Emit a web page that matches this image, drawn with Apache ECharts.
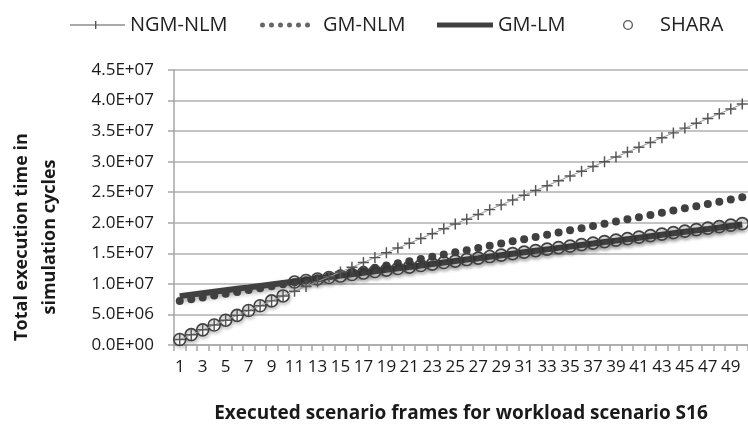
<!DOCTYPE html>
<html>
<head>
<meta charset="utf-8">
<script src="https://cdn.jsdelivr.net/npm/echarts@6/dist/echarts.min.js"></script>
<style>
html,body{margin:0;padding:0;background:#fff;}
#chart{width:748px;height:428px;}
</style>
</head>
<body>
<div id="chart"></div>
<script>
// Categories: executed scenario frames
const categories = ['1','2','3','4','5','6','7','8','9','10','11','12','13','14','15','16','17','18','19','20','21','22','23','24','25','26','27','28','29','30','31','32','33','34','35','36','37','38','39','40','41','42','43','44','45','46','47','48','49','50'];

// Series values in millions of simulation cycles
const ngmNlm = [0.90,1.69,2.48,3.27,4.06,4.85,5.64,6.43,7.22,8.03,8.80,9.59,10.37,11.16,11.94,12.73,13.51,14.30,15.08,15.87,16.65,17.44,18.22,19.01,19.79,20.58,21.36,22.15,22.93,23.72,24.50,25.29,26.07,26.86,27.64,28.43,29.21,30.00,30.78,31.57,32.35,33.14,33.92,34.71,35.49,36.28,37.06,37.85,38.63,39.42];
const gmNlm = [7.20,7.48,7.78,8.08,8.38,8.68,8.99,9.30,9.62,9.94,10.27,10.60,10.93,11.27,11.61,11.95,12.30,12.65,13.00,13.36,13.72,14.08,14.44,14.80,15.16,15.52,15.88,16.24,16.60,16.96,17.32,17.68,18.04,18.40,18.76,19.12,19.48,19.84,20.20,20.56,20.92,21.28,21.64,22.00,22.36,22.72,23.08,23.44,23.80,24.16];
const gmLm = [8.00,8.24,8.48,8.72,8.96,9.20,9.43,9.67,9.91,10.15,10.39,10.63,10.87,11.11,11.35,11.59,11.82,12.06,12.30,12.54,12.78,13.02,13.26,13.50,13.74,13.98,14.21,14.45,14.69,14.93,15.17,15.41,15.65,15.89,16.13,16.37,16.60,16.84,17.08,17.32,17.56,17.80,18.04,18.28,18.52,18.76,18.99,19.23,19.47,19.71];
const shara = [0.90,1.69,2.48,3.27,4.06,4.85,5.64,6.43,7.22,8.03,10.30,10.55,10.79,11.04,11.28,11.53,11.77,12.02,12.26,12.51,12.75,13.00,13.24,13.49,13.73,13.98,14.22,14.47,14.71,14.96,15.20,15.45,15.69,15.94,16.18,16.43,16.67,16.92,17.16,17.41,17.65,17.90,18.14,18.39,18.63,18.88,19.12,19.37,19.61,19.86];

const seriesNames = ['NGM-NLM','GM-NLM','GM-LM','SHARA'];
const yTitle = 'Total execution time in\nsimulation cycles';
const xTitle = 'Executed scenario frames for workload scenario S16';

function sci(v){
  const real = Math.round(v * 1e6);
  if (real === 0) return '0.0E+00';
  const e = Math.floor(Math.log10(real) + 1e-9);
  const m = real / Math.pow(10, e);
  return m.toFixed(1) + 'E+' + (e < 10 ? '0' + e : '' + e);
}

const FONT = '"Open Sans", "DejaVu Sans", sans-serif';
const DARK = '#404040';
const plusPath = 'path://M5.2 0H6.8V5.2H12V6.8H6.8V12H5.2V6.8H0V5.2H5.2Z';
const legendNgmIcon = 'path://M0 4H25V0.5H26.4V4H55V5H26.4V8.5H25V5H0Z';
function dotsPath(){
  let p = 'path://';
  const r = 2.5;
  for (let i = 0; i < 6; i++) {
    const cx = 2.5 + i * 9;
    p += 'M' + (cx - r) + ' 2.5A' + r + ' ' + r + ' 0 1 0 ' + (cx + r) + ' 2.5A' + r + ' ' + r + ' 0 1 0 ' + (cx - r) + ' 2.5Z';
  }
  return p;
}
const legendLmIcon = 'path://M0 0H58V5H0Z';
const ringIcon = 'path://M0 5A5 5 0 1 1 10 5A5 5 0 1 1 0 5ZM1.3 5A3.7 3.7 0 1 0 8.7 5A3.7 3.7 0 1 0 1.3 5Z';

const legendText = {fontFamily: FONT, fontSize: 20, color: '#222'};

const chart = echarts.init(document.getElementById('chart'), null, {renderer: 'canvas'});
chart.setOption({
  animation: false,
  backgroundColor: '#fff',
  legend: [
    {left: 65, top: 10, itemWidth: 55, itemHeight: 9, textStyle: legendText,
     data: [{name: seriesNames[0], icon: legendNgmIcon, itemStyle: {color: '#555'}}]},
    {left: 255, top: 10, itemWidth: 50, itemHeight: 5, textStyle: Object.assign({padding: [0,0,0,8]}, legendText),
     data: [{name: seriesNames[1], icon: dotsPath(), itemStyle: {color: '#666'}}]},
    {left: 432, top: 10, itemWidth: 56, itemHeight: 5, textStyle: legendText,
     data: [{name: seriesNames[2], icon: legendLmIcon, itemStyle: {color: DARK}}]},
    {left: 618, top: 10, itemWidth: 10, itemHeight: 10, textStyle: Object.assign({padding: [0,0,0,22]}, legendText),
     data: [{name: seriesNames[3], icon: ringIcon, itemStyle: {color: '#555', borderWidth: 0}}]}
  ],
  grid: {left: 174, top: 70, bottom: 74, right: -6, containLabel: false},
  xAxis: {
    type: 'category',
    data: categories,
    boundaryGap: true,
    axisLine: {lineStyle: {color: '#a6a6a6', width: 1.5}},
    axisTick: {show: true, interval: 0, length: 6, lineStyle: {color: '#a6a6a6', width: 1.5}},
    axisLabel: {interval: 1, margin: 14, fontFamily: FONT, fontSize: 17, color: '#1a1a1a'},
    name: xTitle,
    nameLocation: 'middle',
    nameGap: 59,
    nameTextStyle: {fontFamily: FONT, fontSize: 19, fontWeight: 'bold', color: '#1a1a1a'}
  },
  yAxis: {
    type: 'value',
    min: 0, max: 45, interval: 5,
    axisLine: {show: true, lineStyle: {color: '#a6a6a6', width: 1.5}},
    axisTick: {show: true, length: 6, lineStyle: {color: '#a6a6a6', width: 1.5}},
    splitLine: {show: true, lineStyle: {color: '#b0b0b0', width: 1.5}},
    axisLabel: {margin: 20, fontFamily: FONT, fontSize: 17, color: '#1a1a1a', padding: [6,0,0,0], formatter: sci}
  },
  graphic: [{
    type: 'text',
    x: 36, y: 237,
    rotation: Math.PI / 2,
    style: {
      text: yTitle,
      fontFamily: FONT, fontSize: 18, fontWeight: 'bold', fill: '#1a1a1a',
      align: 'center', verticalAlign: 'middle', lineHeight: 28
    }
  }],
  series: [
    {
      name: seriesNames[0], type: 'line', data: ngmNlm, z: 5,
      symbol: plusPath, symbolSize: 11, showAllSymbol: true,
      itemStyle: {color: '#555'},
      lineStyle: {color: '#999', width: 1}
    },
    {
      name: seriesNames[1], type: 'line', data: gmNlm, z: 3,
      symbol: 'circle', symbolSize: 8, showAllSymbol: true,
      itemStyle: {color: DARK},
      lineStyle: {width: 0, opacity: 0}
    },
    {
      name: seriesNames[2], type: 'line', data: gmLm, z: 2,
      symbol: 'none',
      itemStyle: {color: DARK},
      lineStyle: {color: DARK, width: 6, shadowColor: 'rgba(0,0,0,0.35)', shadowBlur: 5, shadowOffsetX: 1, shadowOffsetY: 3}
    },
    {
      name: seriesNames[3], type: 'line', data: shara, z: 4,
      symbol: 'circle', symbolSize: 12, showAllSymbol: true,
      itemStyle: {color: 'rgba(255,255,255,0)', borderColor: DARK, borderWidth: 1.6,
        shadowColor: 'rgba(0,0,0,0.35)', shadowBlur: 3, shadowOffsetX: 1, shadowOffsetY: 2},
      lineStyle: {width: 0, opacity: 0}
    }
  ]
});
</script>
</body>
</html>
